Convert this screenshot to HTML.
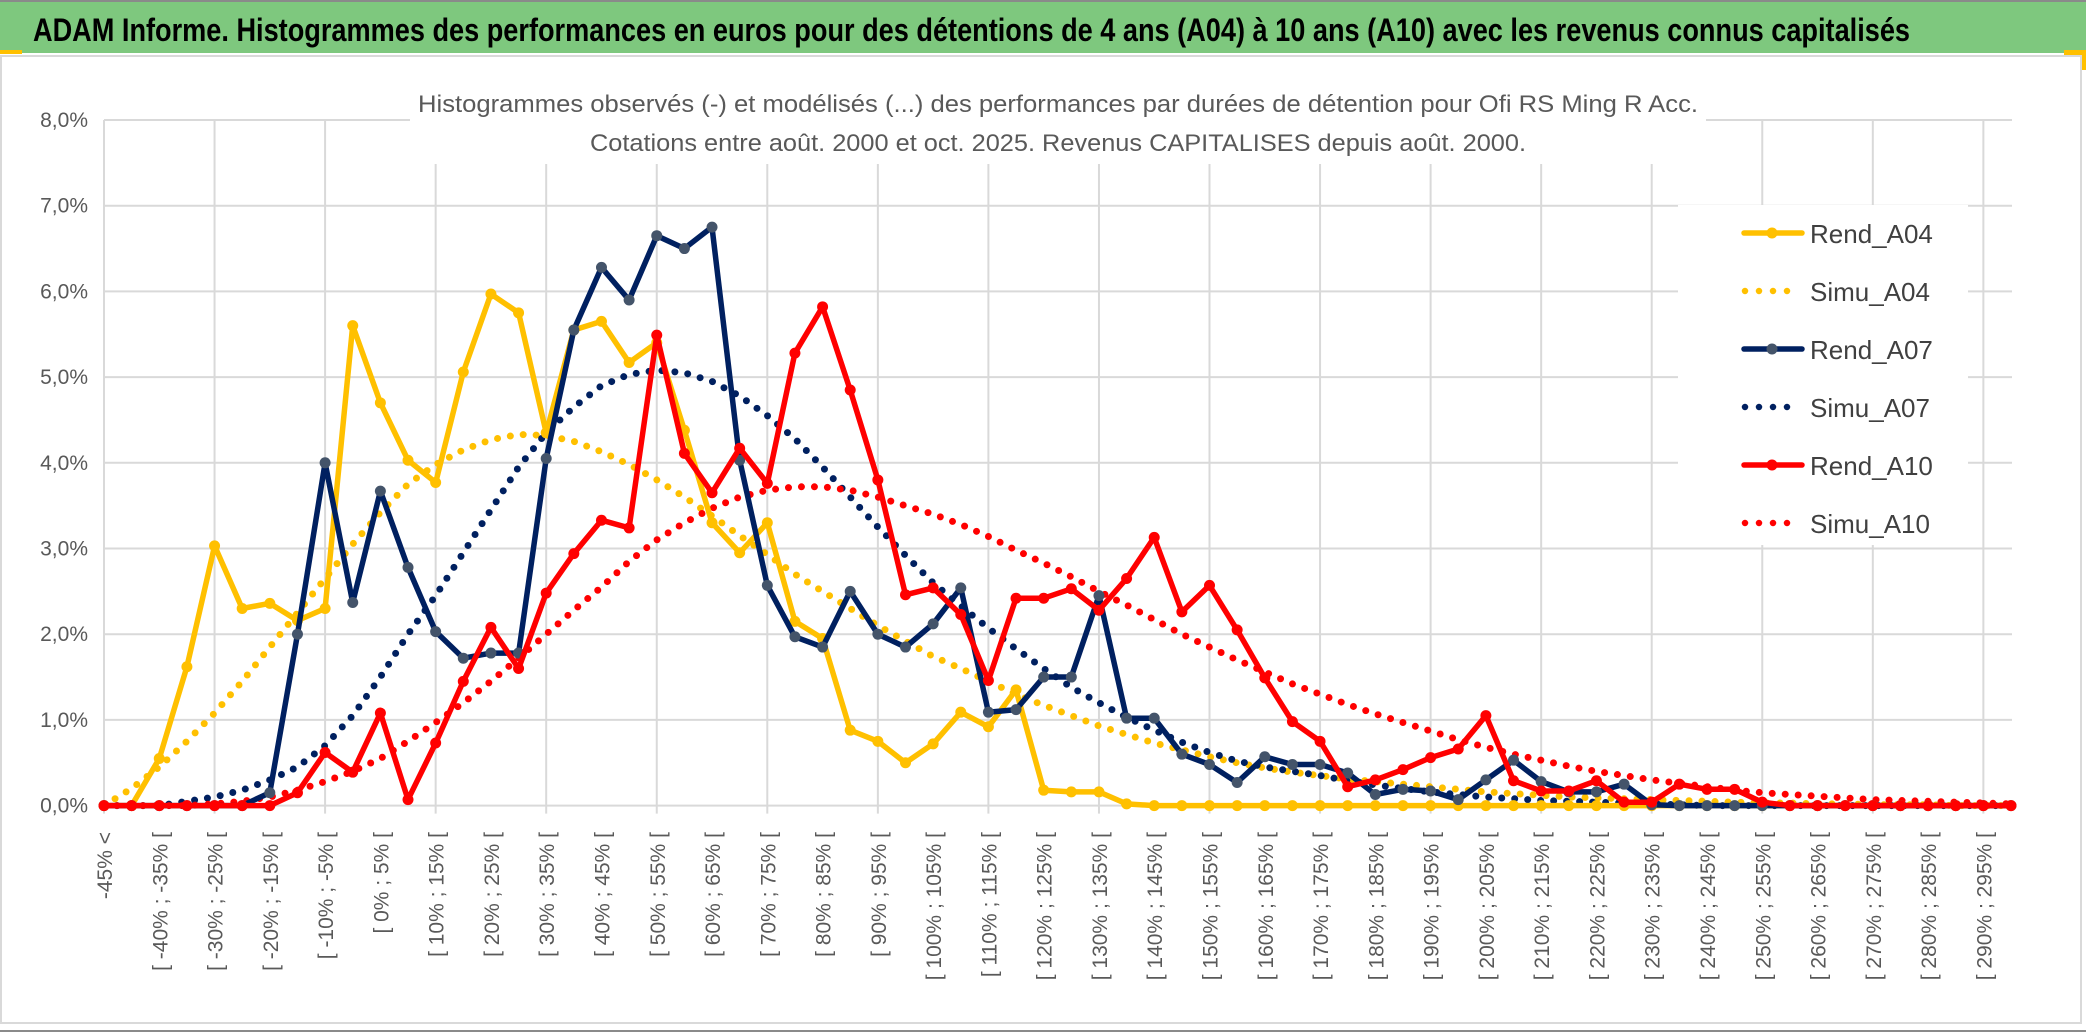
<!DOCTYPE html>
<html><head><meta charset="utf-8">
<style>
html,body{margin:0;padding:0;background:#fff;}
body{width:2086px;height:1033px;overflow:hidden;font-family:"Liberation Sans",Arial,sans-serif;}
svg{display:block;}
</style></head>
<body>
<svg id="chart" width="2086" height="1033" viewBox="0 0 2086 1033" xmlns="http://www.w3.org/2000/svg">
  <rect x="0" y="0" width="2086" height="1033" fill="#fff"/>
  <g>
    <rect x="0" y="0" width="2086" height="53" fill="#7ec87e"/>
    <line x1="0" y1="1" x2="2086" y2="1" stroke="#8a8a8a" stroke-width="2"/>
    <rect x="0" y="50" width="22" height="4" fill="#ffc000"/>
    <rect x="2064" y="50" width="22" height="20" fill="#ffc000"/>
    <text x="33" y="41" font-size="32" font-weight="bold" fill="#000" textLength="1877" lengthAdjust="spacingAndGlyphs">ADAM Informe. Histogrammes des performances en euros pour des détentions de 4 ans (A04) à 10 ans (A10) avec les revenus connus capitalisés</text>
  </g>
  <rect x="1" y="56" width="2080" height="967" fill="#fff" stroke="#d9d9d9" stroke-width="2"/>
  <line x1="0" y1="1031" x2="2086" y2="1031" stroke="#8a8a8a" stroke-width="2"/>
  <g id="grid"></g>
  <g id="yaxis"></g>
  <g id="xaxis"></g>
  <g id="series"></g>
  <g id="titlebox">
    <rect x="410" y="82" width="1296" height="82" fill="#fff"/>
    <text x="1058" y="112" font-size="24" fill="#595959" text-anchor="middle" textLength="1280" lengthAdjust="spacingAndGlyphs">Histogrammes observés (-) et modélisés (...) des performances par durées de détention pour Ofi RS Ming R Acc.</text>
    <text x="1058" y="151" font-size="24" fill="#595959" text-anchor="middle" textLength="936" lengthAdjust="spacingAndGlyphs">Cotations entre août. 2000 et oct. 2025. Revenus CAPITALISES depuis août. 2000.</text>
  </g>
  <g id="legend"></g>
</svg>
<script>
// ---- data (percent values) ----
const categories = ["-45% <"];
const lowerBounds = [];
for (let b = -45; b <= 295; b += 5) lowerBounds.push(b);
lowerBounds.forEach(function(b){ categories.push("[ " + b + "% ; " + (b + 5) + "% ["); });
categories.length = 70;

const yTicks = [0,1,2,3,4,5,6,7,8];
const yTickLabels = ["0,0%","1,0%","2,0%","3,0%","4,0%","5,0%","6,0%","7,0%","8,0%"];

const rendA04 = [0,0,0.55,1.62,3.03,2.3,2.36,2.16,2.3,5.6,4.7,4.03,3.77,5.06,5.97,5.75,4.35,5.55,5.65,5.17,5.4,4.38,3.3,2.95,3.3,2.15,1.95,0.88,0.75,0.5,0.72,1.09,0.92,1.35,0.18,0.16,0.16,0.02];
const simuA04 = [0,0.2,0.45,0.75,1.08,1.45,1.85,2.25,2.65,3.05,3.42,3.75,3.98,4.15,4.27,4.33,4.32,4.25,4.13,3.98,3.8,3.6,3.38,3.15,2.93,2.7,2.5,2.3,2.1,1.92,1.74,1.6,1.45,1.3,1.17,1.05,0.93,0.83,0.73,0.65,0.57,0.5,0.44,0.39,0.35,0.31,0.28,0.25,0.22,0.19,0.16,0.14,0.12,0.1,0.09,0.08,0.07,0.06,0.05,0.04,0.03,0.03,0.02,0.02,0.01,0.01,0.01,0,0,0];
const rendA07 = [0,0,0,0,0,0,0.15,2.0,4.0,2.37,3.67,2.78,2.03,1.72,1.78,1.78,4.05,5.55,6.28,5.9,6.65,6.5,6.75,4.03,2.57,1.97,1.85,2.5,2.0,1.85,2.12,2.54,1.09,1.12,1.5,1.5,2.45,1.02,1.02,0.6,0.48,0.27,0.57,0.48,0.48,0.38,0.13,0.19,0.17,0.07,0.3,0.53,0.28,0.16,0.16,0.25,0.01];
const simuA07 = [0,0,0,0.05,0.1,0.18,0.3,0.45,0.7,1.05,1.5,2.0,2.45,2.95,3.45,3.95,4.35,4.65,4.9,5.03,5.08,5.05,4.95,4.78,4.55,4.28,3.95,3.6,3.25,2.92,2.6,2.33,2.07,1.83,1.6,1.38,1.2,1.03,0.88,0.74,0.62,0.52,0.45,0.4,0.35,0.29,0.24,0.2,0.16,0.13,0.1,0.08,0.06,0.05,0.04,0.03,0.02,0.01];
const rendA10 = [0,0,0,0,0,0,0,0.15,0.62,0.39,1.08,0.07,0.73,1.45,2.08,1.6,2.48,2.94,3.33,3.24,5.49,4.11,3.65,4.17,3.76,5.28,5.82,4.85,3.8,2.46,2.54,2.23,1.46,2.42,2.42,2.53,2.28,2.65,3.13,2.26,2.57,2.05,1.49,0.98,0.75,0.22,0.3,0.42,0.56,0.66,1.05,0.29,0.17,0.17,0.29,0.04,0.04,0.25,0.19,0.19,0.04];
const simuA10 = [0,0,0,0,0.02,0.05,0.1,0.18,0.28,0.4,0.55,0.75,0.97,1.2,1.45,1.72,2.0,2.28,2.55,2.85,3.1,3.3,3.47,3.6,3.68,3.72,3.72,3.68,3.6,3.5,3.4,3.28,3.14,2.98,2.83,2.67,2.5,2.34,2.17,2.0,1.85,1.7,1.56,1.42,1.3,1.18,1.07,0.97,0.87,0.77,0.68,0.6,0.53,0.46,0.4,0.35,0.3,0.26,0.22,0.18,0.15,0.13,0.11,0.09,0.07,0.06,0.05,0.04,0.03,0.02];

const seriesNames = ["Rend_A04","Simu_A04","Rend_A07","Simu_A07","Rend_A10","Simu_A10"];

// ---- layout ----
const NS = "http://www.w3.org/2000/svg";
const X0 = 104, X1 = 2011, Y0 = 805.6, YTOP = 120, YMAX = 8;
const N = categories.length;
function xPos(i){ return X0 + i * (X1 - X0) / (N - 1); }
function yPos(v){ return Y0 - v * (Y0 - YTOP) / YMAX; }
function mk(tag, attrs, parent){ const e = document.createElementNS(NS, tag); for (const k in attrs) e.setAttribute(k, attrs[k]); parent.appendChild(e); return e; }
function pad(a){ const r = a.slice(); while (r.length < N) r.push(0); return r; }

const grid = document.getElementById("grid");
yTicks.forEach(function(t){
  const l = mk("line", {x1: X0, x2: X1 + 1, y1: yPos(t), y2: yPos(t), stroke: "#d9d9d9", "stroke-width": 2}, grid);
  
  
});
for (let i = 0; i < N; i += 4) {
  const l = mk("line", {x1: xPos(i), x2: xPos(i), y1: YTOP, y2: Y0 + 8, stroke: "#d9d9d9", "stroke-width": 2}, grid);
  
  
}

const yaxis = document.getElementById("yaxis");
yTicks.forEach(function(t, k){
  const tx = mk("text", {x: 88, y: yPos(t) + 7, "font-size": 21, fill: "#595959", "text-anchor": "end"}, yaxis);
  tx.textContent = yTickLabels[k];
  
  
});

const xaxis = document.getElementById("xaxis");
for (let i = 0; i < N; i += 2) {
  const x = xPos(i) + 8, y = 832;
  const tx = mk("text", {x: x, y: y, "font-size": 21, fill: "#595959", "text-anchor": "end", transform: "rotate(-90 " + x + " " + y + ")"}, xaxis);
  tx.textContent = categories[i];
  
  
}

const seriesG = document.getElementById("series");
function drawSeries(vals, color, dotted, markerColor, name){
  const v = pad(vals);
  const pts = v.map(function(d, i){ return xPos(i).toFixed(1) + "," + yPos(d).toFixed(1); }).join(" ");
  const g = mk("g", {}, seriesG);
  
  
  if (dotted) {
    mk("polyline", {points: pts, fill: "none", stroke: color, "stroke-width": 7, "stroke-linecap": "round", "stroke-dasharray": "0 13"}, g);
  } else {
    mk("polyline", {points: pts, fill: "none", stroke: color, "stroke-width": 5.5, "stroke-linejoin": "round"}, g);
    v.forEach(function(d, i){
      const c = mk("circle", {cx: xPos(i), cy: yPos(d), r: 5.5, fill: markerColor}, g);
      
      
    });
  }
}
drawSeries(simuA04, "#ffc000", true, null, "series-simu-a04");
drawSeries(simuA07, "#002060", true, null, "series-simu-a07");
drawSeries(simuA10, "#ff0000", true, null, "series-simu-a10");
drawSeries(rendA04, "#ffc000", false, "#ffc000", "series-rend-a04");
drawSeries(rendA07, "#002060", false, "#44546a", "series-rend-a07");
drawSeries(rendA10, "#ff0000", false, "#ff0000", "series-rend-a10");

// legend
const legend = document.getElementById("legend");
mk("rect", {x: 1678, y: 205, width: 290, height: 340, fill: "#fff"}, legend);
const legColors = ["#ffc000","#ffc000","#002060","#002060","#ff0000","#ff0000"];
const legMarker = ["#ffc000",null,"#44546a",null,"#ff0000",null];
seriesNames.forEach(function(nm, k){
  const y = 233 + k * 58;
  const g = mk("g", {}, legend);
  
  
  if (legMarker[k]) {
    mk("line", {x1: 1744, x2: 1802, y1: y, y2: y, stroke: legColors[k], "stroke-width": 5.5, "stroke-linecap": "round"}, g);
    mk("circle", {cx: 1772, cy: y, r: 5.5, fill: legMarker[k]}, g);
  } else {
    mk("line", {x1: 1745, x2: 1800, y1: y, y2: y, stroke: legColors[k], "stroke-width": 6.5, "stroke-linecap": "round", "stroke-dasharray": "0 14"}, g);
  }
  const tx = mk("text", {x: 1810, y: y + 10, "font-size": 26, fill: "#404040"}, g);
  tx.textContent = nm;
});
</script>
</body></html>
